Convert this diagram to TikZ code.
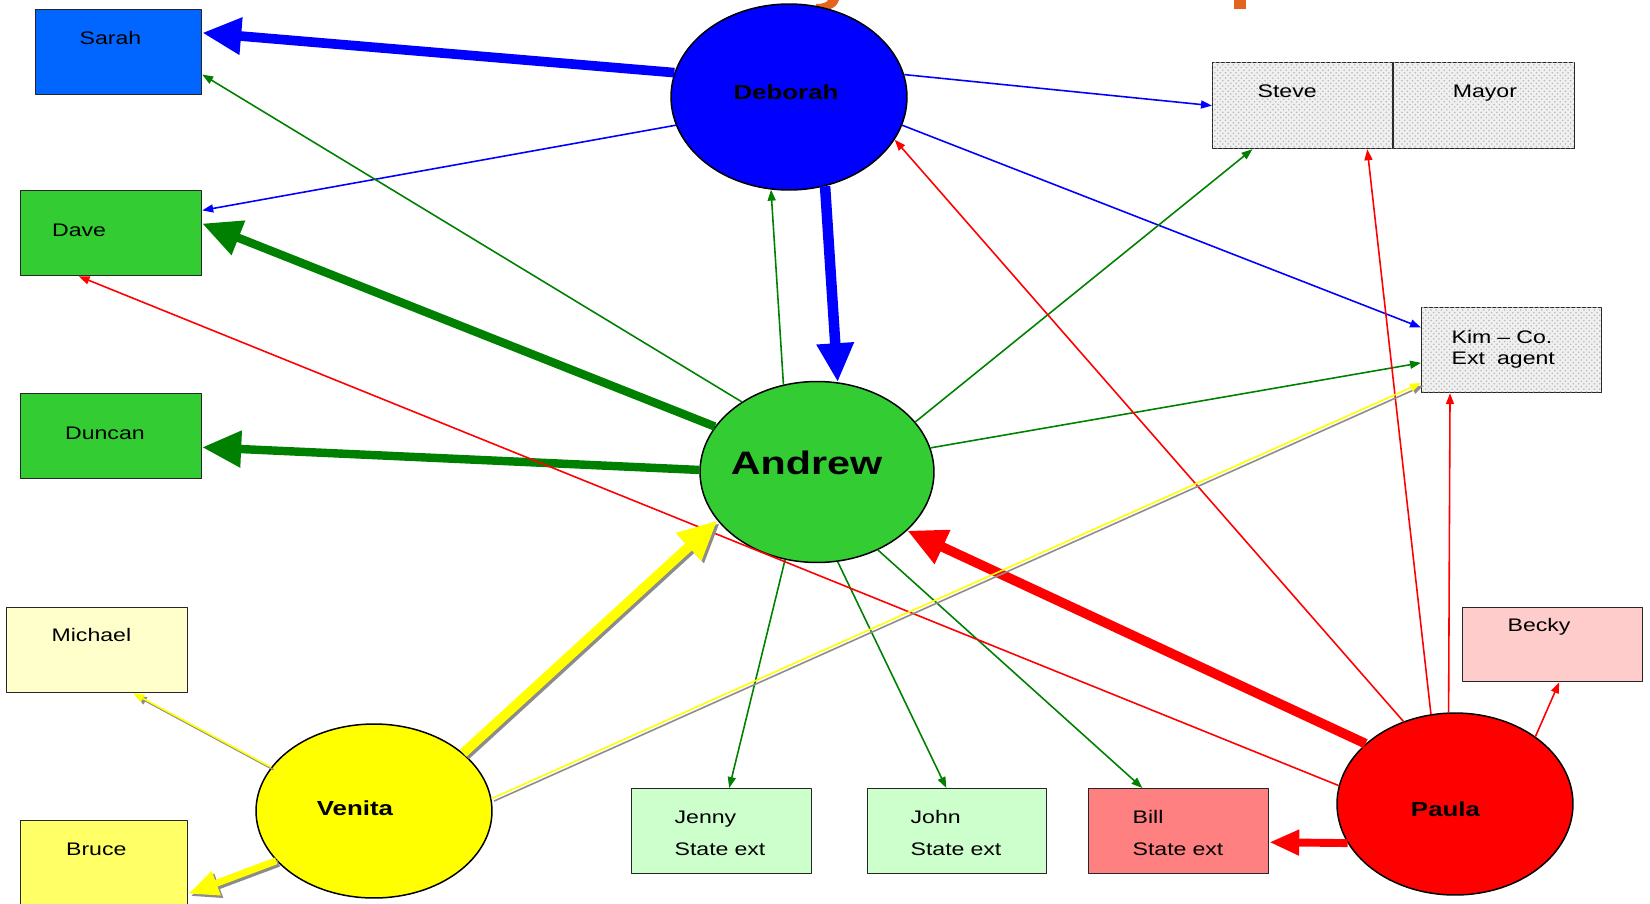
\documentclass[tikz,border=0pt]{standalone}
\usepackage{fontspec}
\setmainfont{Liberation Sans}[FakeStretch=1.27]
\usetikzlibrary{shapes.geometric, arrows.meta, patterns}

\definecolor{sarahblue}{RGB}{0,102,255}
\definecolor{debblue}{RGB}{0,0,255}
\definecolor{leafgreen}{RGB}{51,204,51}
\definecolor{linegreen}{RGB}{0,128,0}
\definecolor{lineblue}{RGB}{0,0,255}
\definecolor{linered}{RGB}{255,0,0}
\definecolor{palegreen}{RGB}{204,255,204}
\definecolor{paleyellow}{RGB}{255,255,204}
\definecolor{softyellow}{RGB}{255,255,102}
\definecolor{venitayellow}{RGB}{255,255,0}
\definecolor{billred}{RGB}{255,128,128}
\definecolor{palerose}{RGB}{255,204,204}
\definecolor{titleorange}{RGB}{226,100,30}

\begin{document}
\begin{tikzpicture}[x=0.02cm, y=-0.02cm, line join=round,
    box/.style={draw=black!85, line width=0.7pt, rectangle, anchor=north west, inner ysep=0pt, align=left, font=\fontsize{10.35}{12.4}\selectfont},
    grainy/.style={fill=gray!12, postaction={pattern=crosshatch dots, pattern color=gray!55}},
    bubble/.style={draw=black, line width=0.85pt, ellipse, inner sep=0pt},
    bubblename/.style={font=\bfseries\fontsize{11.6}{14}\selectfont},
    weaklink/.style={line width=0.9pt, -{Triangle[length=0.22cm, width=0.16cm]}},
    stronglink/.style={line width=#1, -{Triangle[length=0.78cm, width=0.7cm]}},
    midlink/.style={line width=#1, -{Triangle[length=0.6cm, width=0.48cm]}}]
  \useasboundingbox (0,0) rectangle (1650,903);
  \clip (0,0) rectangle (1650,903);

  % bits of the cut-off title
  \fill[titleorange] (828,0) -- (839,0) .. controls (836,9) and (828,11) .. (815,10) -- (816,4) .. controls (824,4) and (827,2) .. (828,0) -- cycle;
  \fill[titleorange] (1234,0) rectangle (1246,9);

  % boxes on the left
  \node[box, fill=sarahblue, inner xsep=0.88cm, text width=1.56cm, text height=0.70cm, text depth=1.0cm] (sarah) at (35,9) {Sarah};
  \node[box, fill=leafgreen, inner xsep=0.63cm, text width=2.36cm, text height=0.92cm, text depth=0.78cm] (dave) at (20,190) {Dave};
  \node[box, fill=leafgreen, inner xsep=0.89cm, text width=1.84cm, text height=0.92cm, text depth=0.78cm] (duncan) at (20,393) {Duncan};
  \node[box, fill=paleyellow, inner xsep=0.9cm, text width=1.82cm, text height=0.68cm, text depth=1.02cm] (michael) at (6,607) {Michael};
  \node[box, fill=softyellow, inner xsep=0.91cm, text width=1.52cm, text height=0.70cm, text depth=1.0cm] (bruce) at (20,820) {Bruce};

  % boxes on the right
  \node[box, grainy, inner xsep=0.9cm, text width=1.8cm, text height=0.70cm, text depth=1.02cm] (steve) at (1212,62) {Steve};
  \node[box, grainy, inner xsep=1.18cm, text width=1.26cm, text height=0.70cm, text depth=1.02cm] (mayor) at (steve.north east) {Mayor};
  \node[box, grainy, inner xsep=0.6cm, text width=2.4cm, text height=0.72cm, text depth=0.98cm, font=\fontsize{10.35}{11.9}\selectfont] (kim) at (1421,307) {Kim -- Co.\\Ext\ \ agent};
  \node[box, fill=palerose, inner xsep=0.9cm, text width=1.8cm, text height=0.48cm, text depth=1.0cm] (becky) at (1462,607) {Becky};

  % state extension boxes
  \node[box, fill=palegreen, inner xsep=0.86cm, text width=1.88cm, text height=0.70cm, text depth=1.0cm, font=\fontsize{10.35}{18.1}\selectfont] (jenny) at (631,788) {Jenny\\State ext};
  \node[box, fill=palegreen, inner xsep=0.86cm, text width=1.86cm, text height=0.70cm, text depth=1.0cm, font=\fontsize{10.35}{18.1}\selectfont] (john) at (867,788) {John\\State ext};
  \node[box, fill=billred, inner xsep=0.88cm, text width=1.84cm, text height=0.70cm, text depth=1.0cm, font=\fontsize{10.35}{18.1}\selectfont] (bill) at (1088,788) {Bill\\State ext};

  % the four people in the middle
  \node[bubble, fill=debblue, minimum width=4.72cm, minimum height=3.72cm,
    label={[bubblename, xshift=-0.06cm, yshift=0.09cm]center:Deborah}] (deb) at (789,97) {};
  \node[bubble, fill=leafgreen, minimum width=4.68cm, minimum height=3.62cm,
    label={[font=\bfseries\fontsize{18.5}{22}\selectfont, xshift=-0.21cm, yshift=0.19cm]center:Andrew}] (andrew) at (817,472) {};
  \node[bubble, fill=venitayellow, minimum width=4.72cm, minimum height=3.48cm,
    label={[bubblename, xshift=-0.38cm, yshift=0.05cm]center:Venita}] (venita) at (374,811) {};
  \node[bubble, fill=linered, minimum width=4.72cm, minimum height=3.64cm,
    label={[bubblename, xshift=-0.19cm, yshift=-0.1cm]center:Paula}] (paula) at (1455,804) {};

  % Deborah
  \draw[stronglink=5.5pt, lineblue] (deb.168) -- (sarah.13);
  \draw[weaklink, lineblue] (deb.194) -- (dave.14);
  \draw[weaklink, lineblue] (deb.11) -- (steve.west);
  \draw[weaklink, lineblue] (deb.-14) -- (kim.166);
  \draw[stronglink=6pt, lineblue] (deb.-68) -- (andrew.77);

  % Andrew
  \draw[weaklink, linegreen] (andrew.137) -- (sarah.-15);
  \draw[stronglink=4.8pt, linegreen] (andrew.156) -- (dave.6);
  \draw[stronglink=4.8pt, linegreen] (andrew.179) -- (duncan.-7);
  \draw[weaklink, linegreen] (andrew.111) -- (deb.-101);
  \draw[weaklink, linegreen] (andrew.27) -- (steve.221);
  \draw[weaklink, linegreen] (andrew.12) -- (kim.188);
  \draw[weaklink, linegreen] (andrew.-110) -- (jenny.80);
  \draw[weaklink, linegreen] (andrew.-77) -- (john.104);
  \draw[weaklink, linegreen] (andrew.-52) -- (bill.130);

  % Paula
  \draw[weaklink, linered] (paula.171) -- (dave.233);
  \draw[weaklink, linered] (paula.122) -- (deb.-22);
  \draw[weaklink, linered] (paula.105) -- (steve.-34);
  \draw[weaklink, linered] (paula.94) -- (kim.215);
  \draw[weaklink, linered] (paula.40) -- (becky.-80);
  \draw[stronglink=5.5pt, linered] (paula.146) -- (andrew.-33);
  \draw[midlink=4.5pt, linered] (paula.200) -- (bill.-7);

  % Venita, grey shadow first
  \begin{scope}[transform canvas={xshift=1.4pt, yshift=-1.4pt}, gray!90]
    \draw[stronglink=5.5pt] (venita.33) -- (andrew.206);
    \draw[weaklink] (venita.6) -- (kim.200);
    \draw[weaklink] (venita.157) -- (michael.-50);
    \draw[midlink=4pt] (venita.207) -- (bruce.-20);
  \end{scope}
  \draw[stronglink=5.5pt, venitayellow] (venita.33) -- (andrew.206);
  \draw[weaklink, venitayellow] (venita.6) -- (kim.200);
  \draw[weaklink, venitayellow] (venita.157) -- (michael.-50);
  \draw[midlink=4pt, venitayellow] (venita.207) -- (bruce.-20);
\end{tikzpicture}
\end{document}
